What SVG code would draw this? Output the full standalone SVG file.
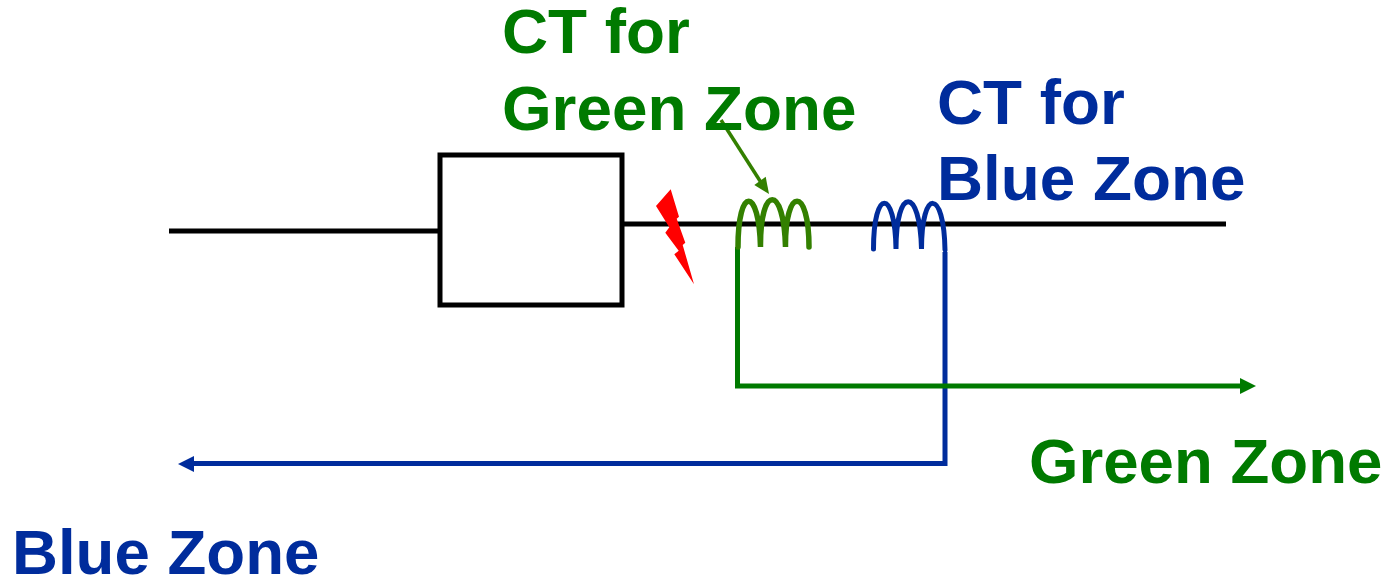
<svg xmlns="http://www.w3.org/2000/svg" width="1392" height="580" viewBox="0 0 1392 580">
<defs>
<style>
text{font-family:"Liberation Sans",Arial,sans-serif;font-weight:700;font-size:63.8px}
.g{fill:#007a00}.b{fill:#002c9c}
.s{font-size:63.6px}
.k{fill:none;stroke:#000;stroke-width:5}
.gl{fill:none;stroke:#007a00;stroke-width:5}
.bl{fill:none;stroke:#002c9c;stroke-width:5}
</style>
</defs>
<rect width="1392" height="580" fill="#fff"/>
<g id="connectors">
<path class="k" d="M169 231H440M622 224H1226"/>
<path class="bl" d="M945 252V463.500H190"/>
<path class="gl" d="M737.500 247V386H1242"/>
<path fill="#007a00" d="M1256 386L1240 378V394Z"/>
<path fill="#002c9c" d="M178 464L194 456V472Z"/>
<path stroke="#338000" stroke-width="3.500" fill="none" d="M721 120L762 184"/>
<path fill="#338000" d="M769 194L754.300 185L765.700 176.700Z"/>
</g>
<g id="breaker"><rect class="k" x="440" y="155" width="182" height="150"/></g>
<g id="fault"><path fill="#f00" d="M670.700 189.300L679 216.700L676.700 218.700L685.300 242.700L682.700 245L694 284.300L674.300 254.300L678.700 250.700L665.300 232.700L669.300 227.300L656 206Z"/></g>
<g id="ct-green"><path fill="none" stroke="#338000" stroke-width="5.500" stroke-linecap="round" d="M738 247C738 186 759 186 760.500 247C760 184 784 184 785.500 247C785 186 809 186 809 247"/></g>
<g id="ct-blue"><path fill="none" stroke="#002c9c" stroke-width="5" stroke-linecap="round" d="M873.500 249C873.500 188 895 188 896 249C896 186 920 186 921.500 249C921.500 188 944 188 945 250"/></g>
<g id="label-ct-green"><text class="g" x="502" y="53">CT for</text><text class="g" x="502" y="130">Green Zone</text></g>
<g id="label-ct-blue"><text class="b" x="937" y="124">CT for</text><text class="b" x="937" y="200">Blue Zone</text></g>
<g id="label-green"><text class="g s" x="1029" y="483">Green Zone</text></g>
<g id="label-blue"><text class="b s" x="12" y="574">Blue Zone</text></g>
</svg>
